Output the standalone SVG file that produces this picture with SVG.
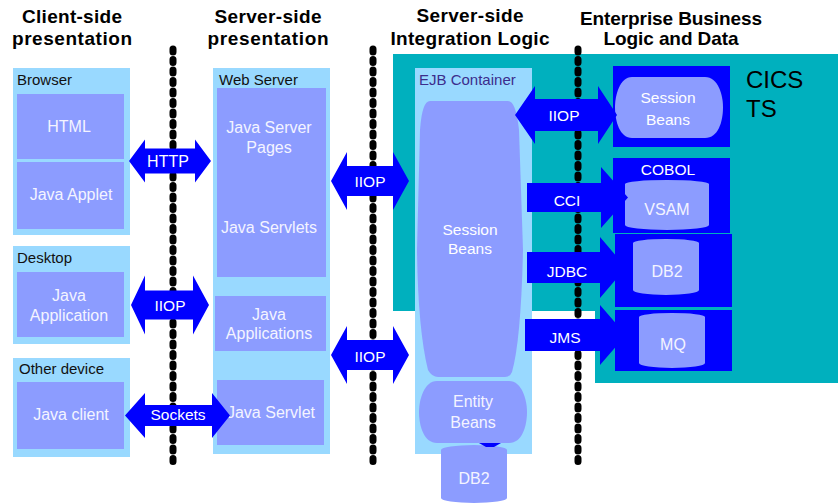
<svg xmlns="http://www.w3.org/2000/svg" width="838" height="503" viewBox="0 0 838 503">
<style>
.hdr{font-family:"Liberation Sans",Arial,sans-serif;font-weight:bold;font-size:19px;fill:#000;text-anchor:middle}
.cont{fill:#99D9FF}
.inner{fill:#8C9CFF}
.blue{fill:#0000FF}
.lbl{font-family:"Liberation Sans",Arial,sans-serif;font-size:15px;fill:#111}
.wt{font-family:"Liberation Sans",Arial,sans-serif;font-size:16px;fill:#F4F4FF;text-anchor:middle}
.at{font-family:"Liberation Sans",Arial,sans-serif;font-size:15.5px;fill:#FFFFFF;text-anchor:middle}
.div{stroke:#000;stroke-width:7;stroke-linecap:round;stroke-dasharray:3 7.5;fill:none}
</style>
<rect width="838" height="503" fill="#FFFFFF"/>
<g id="headers">
<text class="hdr" x="72" y="23" textLength="100">Client-side</text>
<text class="hdr" x="72" y="45" textLength="120">presentation</text>
<text class="hdr" x="268" y="23" textLength="107">Server-side</text>
<text class="hdr" x="268" y="45" textLength="121">presentation</text>
<text class="hdr" x="470" y="22" textLength="107">Server-side</text>
<text class="hdr" x="470" y="45" textLength="159">Integration Logic</text>
<text class="hdr" x="671" y="25" textLength="182">Enterprise Business</text>
<text class="hdr" x="671" y="45" textLength="135">Logic and Data</text>
</g>
<g id="cics-region">
<polygon points="393,54 838,54 838,383 595,383 595,311 393,311" fill="#00B0BE"/>
<text x="746" y="88" font-family="Liberation Sans,Arial,sans-serif" font-size="24" fill="#000">CICS</text>
<text x="746" y="117" font-family="Liberation Sans,Arial,sans-serif" font-size="24" fill="#000">TS</text>
</g>
<g id="dividers">
<line class="div" x1="173" y1="49" x2="173" y2="464"/>
<line class="div" x1="373" y1="49" x2="373" y2="464"/>
<line class="div" x1="578" y1="49" x2="578" y2="464"/>
</g>
<g id="browser">
<rect class="cont" x="13" y="68" width="117" height="167"/>
<text class="lbl" x="17" y="85">Browser</text>
<rect class="inner" x="17" y="94" width="107" height="65"/>
<text class="wt" x="69" y="132">HTML</text>
<rect class="inner" x="17" y="162" width="107" height="67"/>
<text class="wt" x="71" y="200">Java Applet</text>
</g>
<g id="desktop">
<rect class="cont" x="13" y="246" width="117" height="98"/>
<text class="lbl" x="17" y="263">Desktop</text>
<rect class="inner" x="17" y="272" width="107" height="65"/>
<text class="wt" x="69" y="301">Java</text>
<text class="wt" x="69" y="321">Application</text>
</g>
<g id="other-device">
<rect class="cont" x="13" y="358" width="117" height="99"/>
<text class="lbl" x="19" y="374" font-size="16">Other device</text>
<rect class="inner" x="17" y="382" width="107" height="67"/>
<text class="wt" x="71" y="420">Java client</text>
</g>
<g id="web-server">
<rect class="cont" x="213" y="68" width="117" height="386"/>
<text class="lbl" x="219" y="85">Web Server</text>
<rect class="inner" x="217" y="88" width="109" height="189"/>
<text class="wt" x="269" y="133">Java Server</text>
<text class="wt" x="269" y="153">Pages</text>
<text class="wt" x="269" y="233">Java Servlets</text>
<rect class="inner" x="215" y="296" width="111" height="55"/>
<text class="wt" x="269" y="320">Java</text>
<text class="wt" x="269" y="339">Applications</text>
<rect class="inner" x="217" y="380" width="107" height="65"/>
<text class="wt" x="271" y="418">Java Servlet</text>
</g>
<g id="ejb-container">
<rect class="cont" x="415" y="68" width="117" height="386"/>
<text class="lbl" x="419" y="85" style="fill:#3C2D8C">EJB Container</text>
<path class="inner" d="M430,101 H508 Q516,101 519,130 L523,250 Q521,340 512,372 Q510,377 505,377 H438 Q432,377 428,370 Q418,330 417,250 L420,130 Q422,101 430,101 Z"/>
<text class="at" x="470" y="235">Session</text>
<text class="at" x="470" y="254">Beans</text>
</g>
<g id="entity-beans">
<path class="inner" d="M437,381 H509 C522,381 527,400 527,412 C527,426 522,443 509,443 H437 C424,443 419,426 419,412 C419,400 424,381 437,381 Z"/>
<text class="wt" x="473" y="407">Entity</text>
<text class="wt" x="473" y="428">Beans</text>
</g>
<g id="db2-ejb">
<path class="inner" d="M441,450 A33,5 0 0 1 507,450 V498 A33,5 0 0 1 441,498 Z"/>
<text class="wt" x="474" y="484">DB2</text>
</g>
<g id="cics-session-beans">
<rect class="blue" x="613" y="66" width="117" height="81"/>
<path class="inner" d="M632,77 H705 C718,77 723,95 723,107 C723,122 718,138 705,138 H632 C620,138 615,122 615,107 C615,95 620,77 632,77 Z"/>
<text class="at" x="668" y="103">Session</text>
<text class="at" x="668" y="125">Beans</text>
</g>
<g id="cobol-vsam">
<rect class="blue" x="613" y="158" width="117" height="75"/>
<text class="at" x="668" y="175">COBOL</text>
<path class="inner" d="M625,184 A42,4 0 0 1 709,184 V225 A42,5 0 0 1 625,225 Z"/>
<text class="wt" x="667" y="215">VSAM</text>
</g>
<g id="db2-cics">
<rect class="blue" x="615" y="234" width="117" height="73"/>
<path class="inner" d="M633,243 A33,4 0 0 1 699,243 V290 A33,5 0 0 1 633,290 Z"/>
<text class="wt" x="667" y="277">DB2</text>
</g>
<g id="mq">
<rect class="blue" x="615" y="310" width="117" height="61"/>
<path class="inner" d="M639,317 A33,4 0 0 1 705,317 V363 A33,5 0 0 1 639,363 Z"/>
<text class="wt" x="673" y="350">MQ</text>
</g>
<g id="connectors">
<path class="blue" d="M129,161 L145,139.5 L145,148.5 L195,148.5 L195,139.5 L211,161 L195,182.5 L195,173.5 L145,173.5 L145,182.5 Z"/>
<text class="at" x="168" y="167" style="font-size:16px">HTTP</text>
<path class="blue" d="M131,305 L145,275.5 L145,290.5 L193,290.5 L193,275.5 L209,305 L193,334.5 L193,319.5 L145,319.5 L145,334.5 Z"/>
<text class="at" x="170" y="311">IIOP</text>
<path class="blue" d="M125,415.5 L145,393 L145,405 L212,405 L212,393 L230,415.5 L212,438 L212,426 L145,426 L145,438 Z"/>
<text class="at" x="178" y="420">Sockets</text>
<path class="blue" d="M331,181 L347,152 L347,166 L393,166 L393,152 L409,181 L393,210 L393,196 L347,196 L347,210 Z"/>
<text class="at" x="370" y="187">IIOP</text>
<path class="blue" d="M331,355 L347,326 L347,340 L393,340 L393,326 L409,355 L393,384 L393,370 L347,370 L347,384 Z"/>
<text class="at" x="370" y="362">IIOP</text>
<path class="blue" d="M515,115 L535,86 L535,99 L598,99 L598,86 L617,115 L598,144 L598,131 L535,131 L535,144 Z"/>
<text class="at" x="564" y="121">IIOP</text>
<path class="blue" d="M527,183 L601,183 L601,167 L628,197.5 L601,228 L601,212 L527,212 Z"/>
<text class="at" x="567" y="206">CCI</text>
<path class="blue" d="M527,252 L600,252 L600,237 L626,267.5 L600,298 L600,283 L527,283 Z"/>
<text class="at" x="567" y="277">JDBC</text>
<path class="blue" d="M525,319 L600,319 L600,305 L626,335 L600,365 L600,351 L525,351 Z"/>
<text class="at" x="565" y="343">JMS</text>
<polygon class="blue" points="479,443 501,443 494,447 486,447"/>
</g>
</svg>
